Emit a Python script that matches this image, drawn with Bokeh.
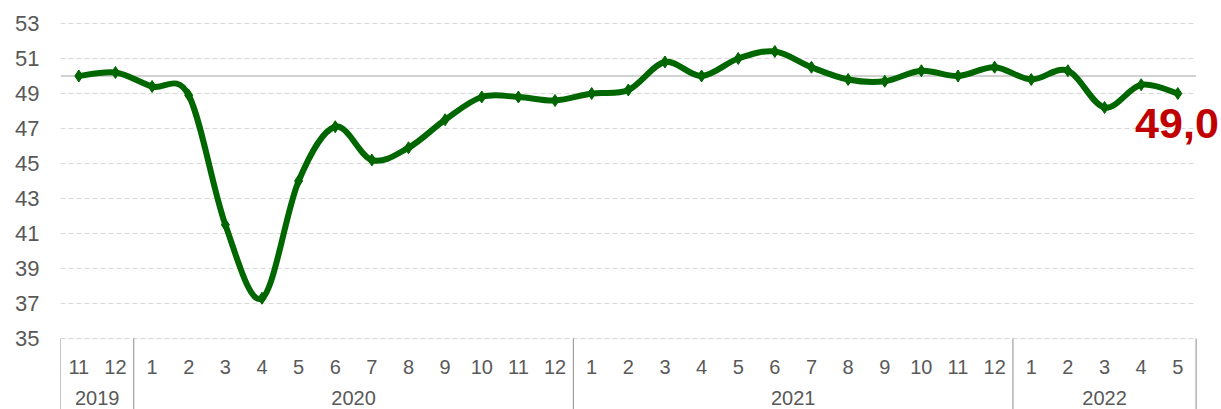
from bokeh.plotting import figure
from bokeh.models import FixedTicker, Range1d
from bokeh.core.properties import value
from bokeh.embed import file_html
from bokeh.resources import INLINE

# ---- data ----
years = ["2019", "2019",
         "2020", "2020", "2020", "2020", "2020", "2020", "2020", "2020", "2020", "2020", "2020", "2020",
         "2021", "2021", "2021", "2021", "2021", "2021", "2021", "2021", "2021", "2021", "2021", "2021",
         "2022", "2022", "2022", "2022", "2022"]
months = ["11", "12",
          "1", "2", "3", "4", "5", "6", "7", "8", "9", "10", "11", "12",
          "1", "2", "3", "4", "5", "6", "7", "8", "9", "10", "11", "12",
          "1", "2", "3", "4", "5"]
pmi = [50.0, 50.2,
       49.4, 48.9, 41.5, 37.3, 44.0, 47.1, 45.2, 45.9, 47.5, 48.8, 48.8, 48.6,
       49.0, 49.2, 50.8, 50.0, 51.0, 51.4, 50.5, 49.8, 49.7, 50.3, 50.0, 50.5,
       49.8, 50.3, 48.2, 49.5, 49.0]
y_ticks = [35, 37, 39, 41, 43, 45, 47, 49, 51, 53]
threshold = 50
last_label = "49,0"

FONT = "Liberation Sans"
GREEN = "#006600"
TXT = "#595959"

n = len(pmi)
xs = list(range(n))

p = figure(width=1221, height=409, output_backend="svg", toolbar_location=None,
           x_range=Range1d(-0.5, 31.193), y_range=Range1d(30.943, 54.314),
           min_border_left=60, min_border_right=0, min_border_top=0, min_border_bottom=0)
p.outline_line_color = None
p.xgrid.visible = False
p.ygrid.visible = False
p.xaxis.visible = False

ya = p.yaxis[0]
ya.ticker = FixedTicker(ticks=y_ticks)
ya.axis_line_color = None
ya.major_tick_line_color = None
ya.minor_tick_line_color = None
ya.major_tick_out = 0
ya.major_label_standoff = 21
ya.major_label_text_font = FONT
ya.major_label_text_font_size = "22px"
ya.major_label_text_color = TXT

# grid lines (dashed) within the category extent
p.segment(x0=[-0.5] * len(y_ticks), x1=[n - 0.5] * len(y_ticks), y0=y_ticks, y1=y_ticks,
          line_color="#D9D9D9", line_width=1, line_dash="5 3")
# threshold line at 50
p.segment(x0=[-0.5], x1=[n - 0.5], y0=[threshold], y1=[threshold],
          line_color="#A6A6A6", line_width=1.2)

# category axis: separators between years
bounds = [-0.5]
for i in range(1, n):
    if years[i] != years[i - 1]:
        bounds.append(i - 0.5)
bounds.append(n - 0.5)
p.segment(x0=bounds, x1=bounds, y0=[y_ticks[0]] * len(bounds), y1=[30] * len(bounds),
          line_color="#8C8C8C", line_width=1)

# month labels
p.text(x=xs, y=[33.4] * n, text=months, text_font=value(FONT), text_font_size="20px",
       text_color=TXT, text_align="center", text_baseline="middle")
# year labels at group centres
ycent, ylab = [], []
for a, b in zip(bounds[:-1], bounds[1:]):
    ycent.append((a + b) / 2)
    ylab.append(years[int(a + 0.5)])
p.text(x=ycent, y=[31.343] * len(ycent), text=ylab, text_font=value(FONT), text_font_size="20px",
       text_color=TXT, text_align="center", text_baseline="middle", y_offset=-4)

# smoothed line (Catmull-Rom -> cubic Bezier)
x0, y0, x1, y1, cx0, cy0, cx1, cy1 = [], [], [], [], [], [], [], []
for i in range(n - 1):
    im1 = max(i - 1, 0)
    ip2 = min(i + 2, n - 1)
    x0.append(xs[i]); y0.append(pmi[i])
    x1.append(xs[i + 1]); y1.append(pmi[i + 1])
    cx0.append(xs[i] + (xs[i + 1] - xs[im1]) / 6.0)
    cy0.append(pmi[i] + (pmi[i + 1] - pmi[im1]) / 6.0)
    cx1.append(xs[i + 1] - (xs[ip2] - xs[i]) / 6.0)
    cy1.append(pmi[i + 1] - (pmi[ip2] - pmi[i]) / 6.0)
p.bezier(x0=x0, y0=y0, x1=x1, y1=y1, cx0=cx0, cy0=cy0, cx1=cx1, cy1=cy1,
         line_color=GREEN, line_width=6, line_cap="round")
p.scatter(xs, pmi, marker="diamond", size=12, fill_color=GREEN, line_color=GREEN)

# last value label
p.text(x=[xs[-1]], y=[pmi[-1]], text=[last_label], text_font=value(FONT), text_font_size="43px",
       text_font_style="bold", text_color="#C00000", text_align="right",
       text_baseline="alphabetic", x_offset=41, y_offset=30)

open("out.html", "w").write(file_html(p, INLINE))
